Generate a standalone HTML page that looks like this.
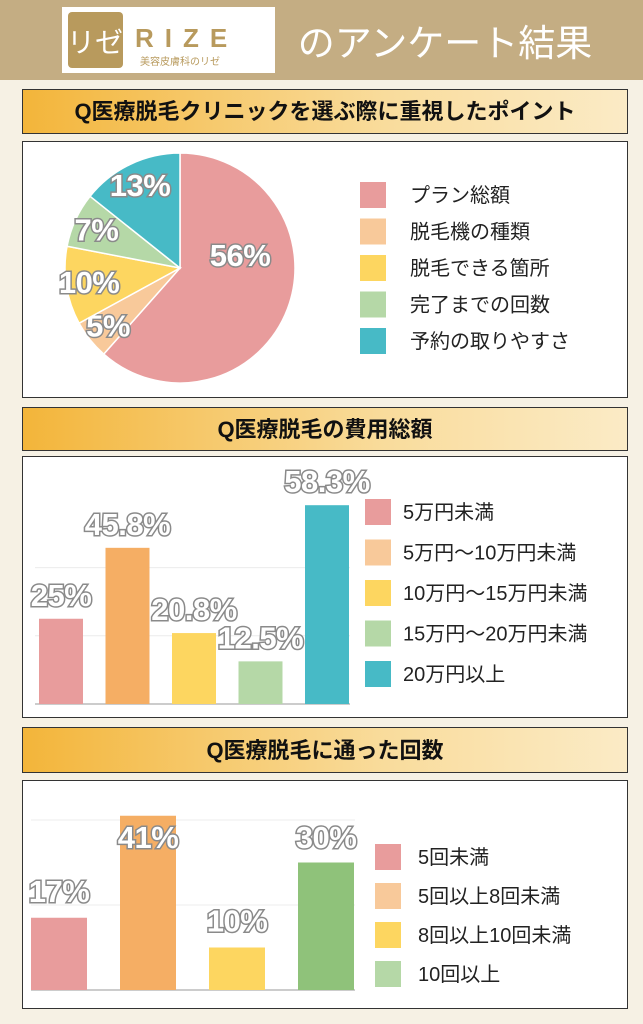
<!DOCTYPE html>
<html><head><meta charset="utf-8"><style>
body{margin:0;width:643px;height:1024px;overflow:hidden;background:#f6f1e4;font-family:"Liberation Sans","Noto Sans CJK JP",sans-serif}
svg{display:block}
.lbl{font-family:"Liberation Sans","Noto Sans CJK JP",sans-serif;font-weight:bold;font-size:31px;fill:#fff;stroke:#8a8a8a;stroke-width:3;paint-order:stroke;text-anchor:middle;letter-spacing:-0.5px}
.leg{font-family:"Liberation Sans","Noto Sans CJK JP",sans-serif;font-size:20px;fill:#222}
.ttl{font-family:"Liberation Sans","Noto Sans CJK JP",sans-serif;font-weight:bold;font-size:22px;fill:#111;text-anchor:middle}
</style></head><body>
<svg id="s" width="643" height="1024">
<defs><linearGradient id="g" x1="0" x2="1"><stop offset="0" stop-color="#f3b53a"/><stop offset="0.6" stop-color="#f9dc9c"/><stop offset="1" stop-color="#fbebc6"/></linearGradient></defs>
<rect x="0" y="0" width="643" height="80" fill="#c4ad83"/>
<g>
<rect x="62" y="7" width="213" height="66" fill="#fff"/>
<rect x="68" y="12" width="55" height="56" fill="#b89a5d" rx="4"/>
<text x="95" y="52" font-size="28" fill="#fff" text-anchor="middle" font-family="Liberation Sans,Noto Sans CJK JP,sans-serif">リゼ</text>
<text x="135" y="47" font-size="26" fill="#b89a5d" font-weight="bold" letter-spacing="11" font-family="Liberation Sans,sans-serif">RIZE</text>
<text x="140" y="65" font-size="10" fill="#b89a5d" font-family="Liberation Sans,Noto Sans CJK JP,sans-serif">美容皮膚科のリゼ</text>
</g>
<text x="445" y="56" font-size="37" fill="#fff" text-anchor="middle" font-family="Liberation Sans,Noto Sans CJK JP,sans-serif">のアンケート結果</text>

<g><rect x="22.5" y="89.5" width="605" height="44" fill="url(#g)" stroke="#333"/><text class="ttl" x="325" y="119">Q医療脱毛クリニックを選ぶ際に重視したポイント</text></g>
<rect x="22.5" y="141.5" width="605" height="256" fill="#fff" stroke="#333"/>
<g id="pie"></g>

<g><rect x="22.5" y="407.5" width="605" height="43" fill="url(#g)" stroke="#333"/><text class="ttl" x="325" y="437">Q医療脱毛の費用総額</text></g>
<rect x="22.5" y="456.5" width="605" height="261" fill="#fff" stroke="#333"/>
<g id="bar1"></g>

<g><rect x="22.5" y="727.5" width="605" height="45" fill="url(#g)" stroke="#333"/><text class="ttl" x="325" y="758">Q医療脱毛に通った回数</text></g>
<rect x="22.5" y="780.5" width="605" height="228" fill="#fff" stroke="#333"/>
<g id="bar2"></g>
</svg>
<script>
const pieCats=["プラン総額","脱毛機の種類","脱毛できる箇所","完了までの回数","予約の取りやすさ"];
const pieVals=[56,5,10,7,13];
const pieColors=["#e89c9c","#f8c99a","#fdd660","#b5d8a7","#47bac6"];
const c1Cats=["5万円未満","5万円〜10万円未満","10万円〜15万円未満","15万円〜20万円未満","20万円以上"];
const c1Vals=[25,45.8,20.8,12.5,58.3];
const c1Colors=["#e89c9c","#f5ae64","#fdd660","#b5d8a7","#47bac6"];
const c1Leg=["#e89c9c","#f8c99a","#fdd660","#b5d8a7","#47bac6"];
const c2Cats=["5回未満","5回以上8回未満","8回以上10回未満","10回以上"];
const c2Vals=[17,41,10,30];
const c2Colors=["#e89c9c","#f5ae64","#fdd660","#8fc27a"];
const c2Leg=["#e89c9c","#f8c99a","#fdd660","#b5d8a7"];
const NS="http://www.w3.org/2000/svg";
function mk(p,t,a){const e=document.createElementNS(NS,t);for(const k in a)e.setAttribute(k,a[k]);p.appendChild(e);return e;}
(function(){const g=document.getElementById('pie');const cx=180,cy=268,r=115;const tot=pieVals.reduce((a,b)=>a+b,0);let a0=0;
pieVals.forEach((v,i)=>{const a1=a0+v/tot*2*Math.PI;const p=(a)=>[cx+r*Math.sin(a),cy-r*Math.cos(a)];const [x0,y0]=p(a0),[x1,y1]=p(a1);
const s=mk(g,'path',{d:`M${cx},${cy}L${x0},${y0}A${r},${r} 0 ${a1-a0>Math.PI?1:0} 1 ${x1},${y1}Z`,fill:pieColors[i],stroke:'#fff','stroke-width':1.5});


const am=(a0+a1)/2;let tx,ty;
if(i==0){tx=cx+60;ty=cy-2;}else{tx=cx+0.8*r*Math.sin(am);ty=cy-0.8*r*Math.cos(am)+11;}
const t=mk(g,'text',{class:'lbl',x:tx,y:ty});t.textContent=v+'%';


a0=a1;});
pieCats.forEach((c,i)=>{const y=195+i*36.5;const r2=mk(g,'rect',{x:360,y:y-13,width:26,height:26,fill:pieColors[i]});


const t=mk(g,'text',{class:'leg',x:410,y:y+7});t.textContent=c;

});})();
function bars(id,vals,cats,cols,leg,o){const g=document.getElementById(id);const yS=v=>o.base-v*o.k;
o.grid.forEach(v=>{const l=mk(g,'line',{x1:o.gx0,x2:o.gx1,y1:yS(v),y2:yS(v),stroke:'#ececec','stroke-width':1});});
const ax=mk(g,'line',{x1:o.gx0,x2:o.gx1,y1:o.base,y2:o.base,stroke:'#bbb','stroke-width':1.5});
vals.forEach((v,i)=>{const x=o.x0+i*o.step;const b=mk(g,'rect',{x:x,y:yS(v),width:o.w,height:v*o.k,fill:cols[i]});


const t=mk(g,'text',{class:'lbl',x:x+o.w/2,y:Math.max(yS(v)-o.off,o.minY)});t.textContent=v+'%';

});
cats.forEach((c,i)=>{const y=o.ly0+i*o.ls;const r=mk(g,'rect',{x:o.lx,y:y-13,width:26,height:26,fill:leg[i]});


const t=mk(g,'text',{class:'leg',x:o.tx,y:y+7});t.textContent=c;

});}
bars('bar1',c1Vals,c1Cats,c1Colors,c1Leg,{base:704,k:3.41,x0:39,step:66.5,w:44,grid:[20,40],gx0:35,gx1:350,ly0:512,ls:40.5,lx:365,tx:403,off:13,minY:0});
bars('bar2',c2Vals,c2Cats,c2Colors,c2Leg,{base:990,k:4.25,x0:31,step:89,w:56,grid:[20,40],gx0:31,gx1:355,ly0:857,ls:39,lx:375,tx:418,off:16,minY:848});
</script>
</body></html>
